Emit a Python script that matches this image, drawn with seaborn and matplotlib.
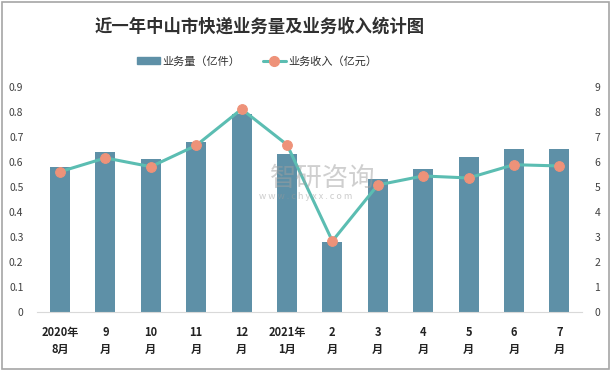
import numpy as np
import pandas as pd
import matplotlib
matplotlib.use("Agg")
import matplotlib.pyplot as plt
import seaborn as sns
from matplotlib.patches import Rectangle
from matplotlib.lines import Line2D

months = ["2020年\n8月", "9\n月", "10\n月", "11\n月", "12\n月", "2021年\n1月",
          "2\n月", "3\n月", "4\n月", "5\n月", "6\n月", "7\n月"]
volume = [0.58, 0.64, 0.61, 0.68, 0.79, 0.63, 0.28, 0.53, 0.57, 0.62, 0.65, 0.65]
income = [5.6, 6.15, 5.8, 6.65, 8.1, 6.68, 2.83, 5.07, 5.43, 5.35, 5.88, 5.83]
left_ticks = [0, 0.1, 0.2, 0.3, 0.4, 0.5, 0.6, 0.7, 0.8, 0.9]
right_ticks = [0, 1, 2, 3, 4, 5, 6, 7, 8, 9]

sns.set_theme(style="white")
plt.rcParams['font.family'] = ['Noto Sans CJK SC', 'DejaVu Sans']

BAR = "#5E90A7"
LINE = "#5BBDB2"
MARK = "#EE9279"
TXT = "#404040"

fig = plt.figure(figsize=(6.12, 3.70), dpi=100)
ax = fig.add_axes([0.061, 0.157, 0.890, 0.609])

df = pd.DataFrame({"month": months, "volume": volume, "income": income})
sns.barplot(data=df, x="month", y="volume", color=BAR, width=0.44, ax=ax,
            saturation=1, edgecolor="none")
ax.set_ylim(0, 0.9)
ax.set_xlim(-0.5, len(months) - 0.5)
ax.set_yticks(left_ticks)
ax.set_yticklabels([f"{t:g}" for t in left_ticks], fontsize=7.5, color=TXT)
ax.set_xlabel("")
ax.set_ylabel("")
ax.tick_params(axis="x", labelsize=8, colors="#222222", length=0, pad=10)
ax.tick_params(axis="y", length=0, pad=10)
for lab in ax.get_xticklabels():
    lab.set_fontweight("bold")
    lab.set_linespacing(1.4)
for s in ["top", "right", "left"]:
    ax.spines[s].set_visible(False)
ax.spines["bottom"].set_color("#d9d9d9")
ax.spines["bottom"].set_linewidth(0.8)

ax2 = ax.twinx()
xpos = np.arange(len(months))
sns.lineplot(x=xpos, y=income, ax=ax2, color=LINE, linewidth=2.2,
             marker="o", markersize=7, markerfacecolor=MARK,
             markeredgecolor=MARK, zorder=5)
ax2.set_ylim(0, 9)
ax2.set_yticks(right_ticks)
ax2.set_yticklabels([str(t) for t in right_ticks], fontsize=7.5, color=TXT)
ax2.tick_params(axis="y", length=0, pad=9)
ax2.set_xlim(-0.5, len(months) - 0.5)
for s in ["top", "right", "left", "bottom"]:
    ax2.spines[s].set_visible(False)
ax2.grid(False)
ax.grid(False)

fig.text(0.425, 0.927, "近一年中山市快递业务量及业务收入统计图", ha="center", va="center",
         fontsize=12.5, fontweight="bold", color="#303030")

handles = [Rectangle((0, 0), 1, 1, color=BAR),
           Line2D([0], [0], color=LINE, lw=2.2, marker="o", markersize=7,
                  markerfacecolor=MARK, markeredgecolor=MARK)]
fig.legend(handles, ["业务量（亿件）", "业务收入（亿元）"], loc="center",
           bbox_to_anchor=(0.42, 0.835), ncol=2, frameon=False, fontsize=8,
           handlelength=2.1, handletextpad=0.2, columnspacing=2.0,
           labelcolor="#303030")

# watermark
fig.text(0.528, 0.519, "智研咨询", ha="center", va="center", fontsize=19,
         color="#a0a0a0", alpha=0.5, zorder=10)
fig.text(0.5, 0.468, "w w w . c h y x x . c o m", ha="center", va="center",
         fontsize=6.5, color="#9a9a9a", alpha=0.5, zorder=10)

fig.add_artist(Rectangle((0.003, 0.004), 0.992, 0.99, transform=fig.transFigure,
                         fill=False, edgecolor="#a6a6a6", linewidth=1.2))

fig.savefig("out.png", dpi=100)
